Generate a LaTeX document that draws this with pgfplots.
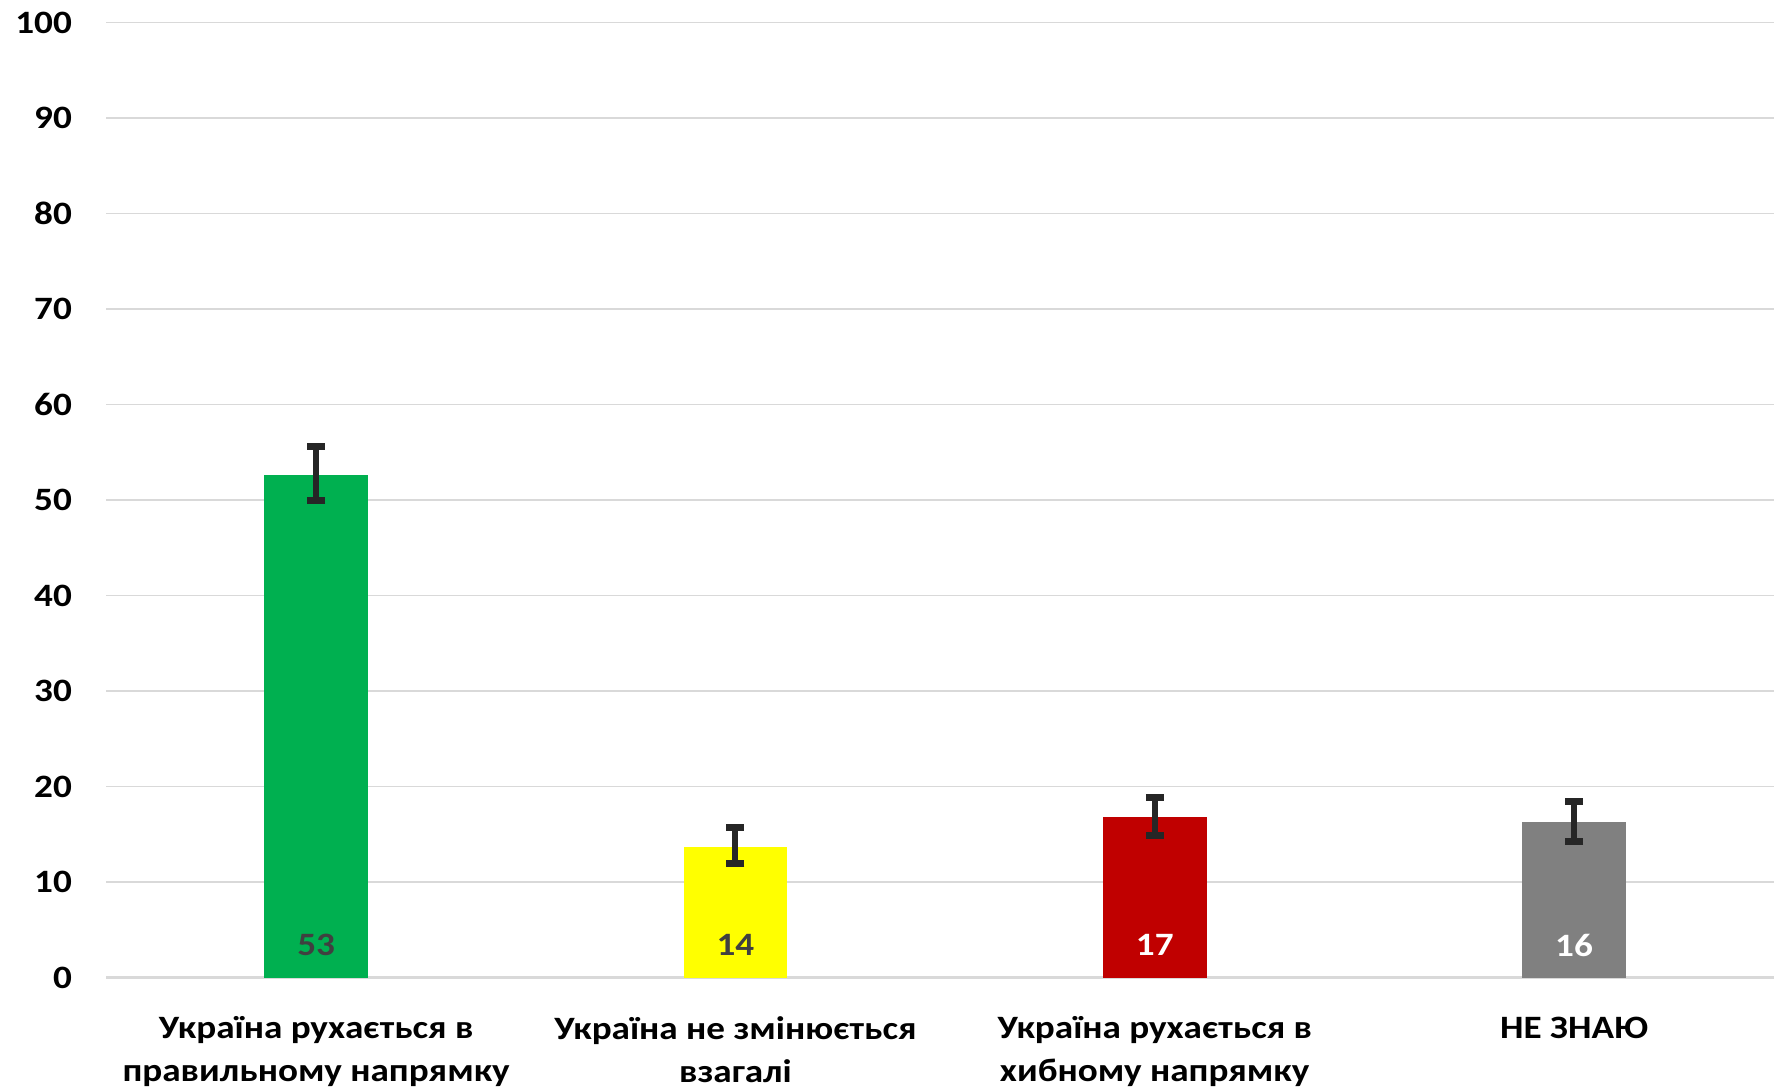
\documentclass[border=0pt]{standalone}
\usepackage{fontspec}
\setmainfont{Carlito}[FakeStretch=1.14]
\usepackage{pgfplots}
\pgfplotsset{compat=1.18}

\definecolor{cgreen}{HTML}{00B050}
\definecolor{cyellow}{HTML}{FFFF00}
\definecolor{cred}{HTML}{C00000}
\definecolor{cgray}{HTML}{808080}
\definecolor{gridc}{HTML}{D9D9D9}
\definecolor{errc}{HTML}{262626}
\definecolor{lblc}{HTML}{404040}

\begin{document}
\begin{tikzpicture}
\begin{axis}[
    scale only axis,
    width=501pt, height=287pt,
    xmin=-0.5, xmax=3.476,
    ymin=0, ymax=100,
    ytick={0,10,...,100},
    xtick={0,1,2,3},
    xticklabels={{Україна рухається в\\правильному напрямку},
                 {Україна не змінюється\\взагалі},
                 {Україна рухається в\\хибному напрямку},
                 {НЕ ЗНАЮ}},
    /pgf/number format/assume math mode=true,
    tick style={draw=none},
    ymajorgrids,
    grid style={gridc, line width=0.45pt},
    axis x line*=bottom,
    axis y line*=left,
    x axis line style={gridc, line width=0.8pt},
    y axis line style={draw=none},
    yticklabel style={font=\bfseries\fontsize{9.8}{12}\selectfont, anchor=east,
        inner sep=0pt, text width=21.6pt, align=right, xshift=-10.2pt,
        minimum height=13.5pt},
    xticklabel style={font=\bfseries\fontsize{9.8}{12.9}\selectfont, anchor=north,
        inner xsep=0pt, inner ysep=1.2pt, align=center, yshift=-10.4pt},
    error bars/error bar style={errc, line width=1.8pt},
    error bars/error mark options={rotate=90, mark size=2.7pt, line width=2.1pt, errc},
    nodes near coords style={font=\bfseries\fontsize{9.8}{12}\selectfont, anchor=center},
]
% bars with error bars
\addplot[ybar, bar width=31.2pt, fill=cgreen, draw=none,
    error bars/.cd, y dir=both, y explicit]
    coordinates {(0,52.6) += (0,3.0) -= (0,2.7)};
\addplot[ybar, bar width=31.2pt, fill=cyellow, draw=none,
    error bars/.cd, y dir=both, y explicit]
    coordinates {(1,13.7) += (0,2.0) -= (0,1.8)};
\addplot[ybar, bar width=31.2pt, fill=cred, draw=none,
    error bars/.cd, y dir=both, y explicit]
    coordinates {(2,16.8) += (0,2.0) -= (0,1.9)};
\addplot[ybar, bar width=31.2pt, fill=cgray, draw=none,
    error bars/.cd, y dir=both, y explicit]
    coordinates {(3,16.3) += (0,2.1) -= (0,2.1)};
% value labels near the bar bottoms
\addplot[draw=none, nodes near coords, point meta=explicit symbolic,
    nodes near coords style={text=lblc}]
    coordinates {(0,3.4)[53] (1,3.4)[14]};
\addplot[draw=none, nodes near coords, point meta=explicit symbolic,
    nodes near coords style={text=white}]
    coordinates {(2,3.4)[17] (3,3.4)[16]};
\end{axis}
\end{tikzpicture}
\end{document}
